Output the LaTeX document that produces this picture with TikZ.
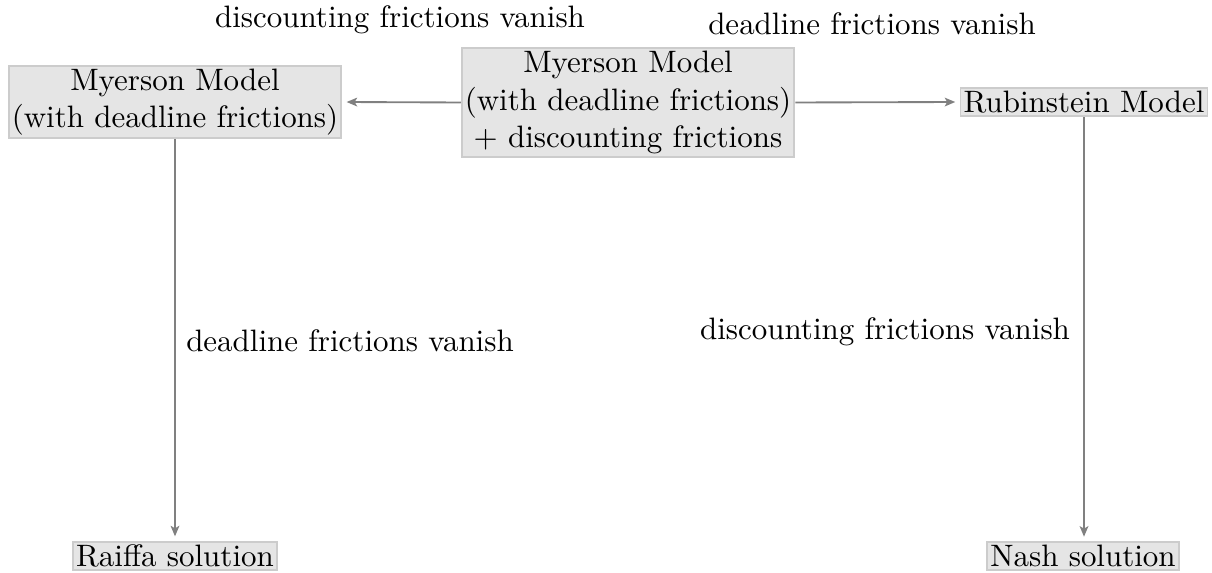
\documentclass[tikz,border=0pt]{standalone}
\usetikzlibrary{arrows.meta}
\begin{document}
\begin{tikzpicture}[x=0.3228pt,y=-0.3228pt,
  model/.style={draw=gray!40,fill=gray!20,inner sep=1pt,align=center,line width=0.6pt},
  flow/.style={draw=gray,line width=0.6pt,-{Stealth[length=3.4pt,width=2.8pt,inset=0.8pt]},shorten >=1.4pt},
  lbl/.style={anchor=base,inner sep=0pt}]
\useasboundingbox (0,0) rectangle (1212,573);
\node[model] (mleft) at (175,102) {Myerson Model\\(with deadline frictions)};
\node[model] (mcent) at (628,102.5) {Myerson Model\\(with deadline frictions)\\$+$ discounting frictions};
\node[model] (rub) at (1084,102) {Rubinstein Model};
\node[model] (raiffa) at (175,556) {Raiffa solution};
\node[model] (nash) at (1083,556) {Nash solution};
\draw[flow] (mcent.west) -- (mleft.east);
\draw[flow] (mcent.east) -- (rub.west);
\draw[flow] (mleft.south) -- (raiffa.north);
\draw[flow] (rub.south) -- (rub.south |- nash.north);
\node[lbl] (l1) at (400,28) {discounting frictions vanish};
\node[lbl] (l2) at (872,35) {deadline frictions vanish};
\node[lbl] (l3) at (350,352) {deadline frictions vanish};
\node[lbl] (l4) at (885,340) {discounting frictions vanish};
\end{tikzpicture}
\end{document}
